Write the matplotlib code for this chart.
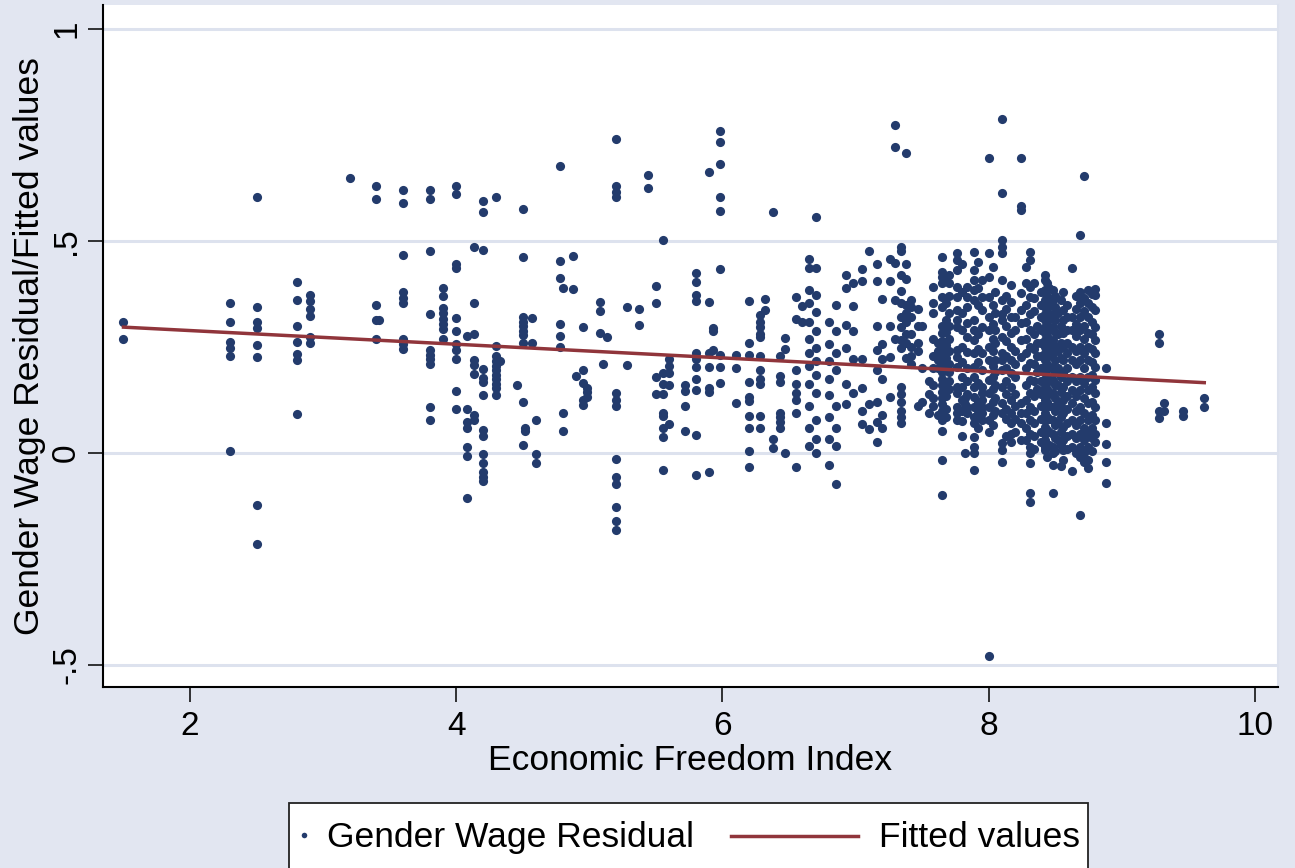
import matplotlib
matplotlib.use('Agg')
import matplotlib.pyplot as plt
from matplotlib.lines import Line2D
from matplotlib.patches import Rectangle

plt.rcParams['font.family'] = ['Liberation Sans', 'DejaVu Sans']

# Economic Freedom Index columns and the residuals
low_x = [1.5, 2.3, 2.5, 2.8, 2.9, 3.2, 3.4, 3.42, 3.6, 3.8, 3.9, 4.0, 4.08, 4.13, 4.2,
         4.3, 4.33, 4.46, 4.5, 4.52, 4.57, 4.6, 4.78, 4.8, 4.88, 4.9, 4.95, 4.98]
low_y = [
    [0.308, 0.27],
    [0.353, 0.308, 0.263, 0.247, 0.229, 0.004],
    [0.604, 0.344, 0.31, 0.295, 0.255, 0.226, -0.122, -0.215],
    [0.403, 0.361, 0.30, 0.263, 0.234, 0.219, 0.092],
    [0.374, 0.358, 0.339, 0.324, 0.274, 0.26],
    [0.65],
    [0.63, 0.60, 0.35, 0.315, 0.268],
    [0.315],
    [0.621, 0.59, 0.467, 0.381, 0.365, 0.353, 0.268, 0.258, 0.245],
    [0.62, 0.60, 0.476, 0.327, 0.242, 0.232, 0.221, 0.21, 0.109, 0.079],
    [0.39, 0.37, 0.342, 0.33, 0.316, 0.305, 0.293, 0.268],
    [0.63, 0.61, 0.447, 0.437, 0.319, 0.287, 0.258, 0.242, 0.222, 0.147, 0.103],
    [0.277, 0.103, 0.074, 0.06, 0.015, -0.008, -0.106],
    [0.486, 0.353, 0.281, 0.22, 0.207, 0.186, 0.089, 0.077],
    [0.594, 0.569, 0.478, 0.199, 0.176, 0.168, 0.137, 0.055, 0.039, -0.002, -0.023, -0.044, -0.056, -0.066],
    [0.604, 0.253, 0.228, 0.218, 0.205, 0.195, 0.184, 0.174, 0.163, 0.153, 0.136],
    [0.216],
    [0.161],
    [0.576, 0.463, 0.321, 0.31, 0.30, 0.289, 0.279, 0.26, 0.121, 0.02],
    [0.06, 0.053],
    [0.319, 0.26],
    [0.077, -0.003, -0.023],
    [0.677, 0.454, 0.412, 0.305, 0.277, 0.249],
    [0.389, 0.095, 0.053],
    [0.466, 0.387],
    [0.182],
    [0.298, 0.195, 0.165, 0.126, 0.113],
    [0.153, 0.144, 0.132],
]

mid_x = [5.08, 5.1, 5.13, 5.2, 5.28, 5.37, 5.44, 5.5, 5.55, 5.6, 5.72, 5.8, 5.9, 5.93, 5.98,
         6.1, 6.2, 6.28, 6.32, 6.38, 6.43, 6.47, 6.55, 6.6, 6.65, 6.7, 6.8, 6.85, 6.93, 6.98]
mid_y = [
    [0.356, 0.334, 0.284],
    [0.211],
    [0.274],
    [0.741, 0.629, 0.616, 0.603, 0.142, 0.126, 0.111, -0.014, -0.056, -0.074, -0.128, -0.16, -0.182],
    [0.344, 0.207],
    [0.34, 0.303],
    [0.657, 0.626],
    [0.394, 0.353, 0.179, 0.14],
    [0.503, 0.189, 0.163, 0.14, 0.095, 0.087, 0.06, 0.037, -0.04],
    [0.221, 0.205, 0.189, 0.161, 0.068],
    [0.161, 0.147, 0.111, 0.052],
    [0.425, 0.403, 0.372, 0.358, 0.237, 0.221, 0.203, 0.174, 0.149, 0.042, -0.052],
    [0.664, 0.357, 0.235, 0.202, 0.153, 0.144, -0.045],
    [0.242, 0.295, 0.289],
    [0.76, 0.734, 0.683, 0.605, 0.571, 0.434, 0.232, 0.203, 0.165],
    [0.232, 0.2, 0.119],
    [0.358, 0.26, 0.232, 0.168, 0.132, 0.123, 0.087, 0.058, 0.005, -0.034],
    [0.326, 0.31, 0.298, 0.281, 0.274, 0.228, 0.197, 0.174, 0.163, 0.087, 0.06],
    [0.363, 0.337],
    [0.569, 0.034, 0.011],
    [0.229, 0.181, 0.168, 0.095, 0.084, 0.074, 0.058],
    [0.272, 0.245, 0.0],
    [0.368, 0.316, 0.195, 0.163, 0.142, 0.126, 0.095, -0.032],
    [0.347, 0.31],
    [0.458, 0.437, 0.384, 0.353, 0.31, 0.268, 0.237, 0.205, 0.163, 0.111, 0.058, 0.016],
    [0.558, 0.437, 0.374, 0.332, 0.289, 0.247, 0.216, 0.184, 0.142, 0.079, 0.032, 0.0],
    [0.31, 0.258, 0.216, 0.174, 0.137, 0.084, 0.032, -0.028],
    [0.349, 0.289, 0.237, 0.195, 0.111, 0.058, 0.016, -0.074],
    [0.419, 0.389, 0.303, 0.247, 0.163, 0.116],
    [0.4, 0.347, 0.289, 0.221, 0.142],
]

high_x = [7.05, 7.1, 7.16, 7.2, 7.26, 7.3, 7.34, 7.38, 7.42, 7.47, 7.5, 7.55, 7.58, 7.62,
          7.65, 7.7, 7.76, 7.82, 7.84, 7.89, 7.95, 8.0, 8.05, 8.1, 8.17, 8.24, 8.31, 8.36,
          8.42, 8.45, 8.48, 8.52, 8.56, 8.63, 8.69, 8.72, 8.75, 8.8, 8.88,
          9.28, 9.32, 9.46, 9.62]
high_y = [
    [0.435, 0.405, 0.221, 0.153, 0.1, 0.068],
    [0.476, 0.116, 0.056],
    [0.447, 0.405, 0.3, 0.242, 0.195, 0.121, 0.074, 0.026],
    [0.363, 0.258, 0.221, 0.174, 0.089, 0.058],
    [0.458, 0.405, 0.3, 0.226, 0.132],
    [0.775, 0.721, 0.448, 0.361, 0.268],
    [0.487, 0.477, 0.42, 0.383, 0.353, 0.322, 0.298, 0.267, 0.247, 0.156, 0.14, 0.12, 0.1, 0.085, 0.07],
    [0.708, 0.445, 0.41, 0.35, 0.33, 0.31, 0.28, 0.26, 0.225],
    [0.361, 0.345, 0.321, 0.28, 0.25, 0.23, 0.21],
    [0.34, 0.30, 0.26, 0.24, 0.11],
    [0.3, 0.2, 0.121],
    [0.17, 0.14, 0.094],
    [0.392, 0.353, 0.33, 0.27, 0.23, 0.2, 0.16, 0.13, 0.11],
    [0.26, 0.24, 0.22, 0.2, 0.09],
    [0.463, 0.428, 0.416, 0.4, 0.369, 0.345, 0.3, 0.282, 0.265, 0.25, 0.235, 0.22, 0.205, 0.19,
     0.175, 0.16, 0.145, 0.13, 0.115, 0.1, 0.078, 0.052, -0.017, -0.099],
    [0.42, 0.4, 0.37, 0.33, 0.3, 0.27, 0.24, 0.21, 0.19, 0.17, 0.15],
    [0.471, 0.455, 0.432, 0.392, 0.369, 0.337, 0.314, 0.298, 0.243, 0.227, 0.204, 0.156, 0.141,
     0.109, 0.094, 0.078],
    [0.13, 0.115, 0.0],
    [0.392, 0.369, 0.345, 0.306, 0.274, 0.239, 0.2, 0.17, 0.14, 0.109, 0.094],
    [0.475, 0.432, 0.408, 0.384, 0.361, 0.314, 0.29, 0.267, 0.235, 0.204, 0.18, 0.156, 0.133,
     0.109, 0.086, 0.07, 0.038, 0.015, 0.0, -0.039],
    [0.408, 0.369, 0.337, 0.298, 0.235, 0.196, 0.156, 0.141, 0.125, 0.109, 0.094, 0.078],
    [0.697, 0.471, 0.416, 0.369, 0.322, 0.29, 0.251, 0.219, 0.172, 0.141, 0.109, 0.078, 0.05, -0.48],
    [0.38, 0.33, 0.29, 0.26, 0.22, 0.19, 0.16, 0.13, 0.1],
    [0.789, 0.613, 0.502, 0.487, 0.471, 0.408, 0.361, 0.329, 0.314, 0.274, 0.235, 0.219, 0.196,
     0.156, 0.117, 0.094, 0.023, 0.007, -0.02],
    [0.396, 0.357, 0.322, 0.282, 0.251, 0.219, 0.188, 0.156, 0.125, 0.094, 0.07, 0.046, 0.027],
    [0.695, 0.582, 0.574, 0.377, 0.337, 0.306, 0.267, 0.227, 0.117, 0.094, 0.07, 0.031],
    [0.475, 0.455, 0.392, 0.369, 0.329, 0.29, 0.251, 0.212, 0.172, 0.141, 0.109, 0.078, 0.046,
     0.015, 0.0, -0.024, -0.095, -0.115],
    [0.3, 0.26, 0.23, 0.19, 0.15],
    [0.42, 0.408, 0.384, 0.361, 0.345, 0.329, 0.314, 0.298, 0.282, 0.267, 0.251, 0.235, 0.219,
     0.204, 0.188, 0.172, 0.156, 0.141, 0.125, 0.109, 0.094, 0.078, 0.062, 0.046, 0.031, 0.015, 0.007],
    [0.39, 0.35, 0.32, 0.29, 0.26, 0.23, 0.2, 0.17, 0.14, 0.11, 0.08, 0.05, 0.02],
    [0.384, 0.361, 0.329, 0.298, 0.267, 0.235, 0.204, 0.172, 0.141, 0.109, 0.078, 0.046, 0.015,
     0.0, -0.028, -0.094],
    [0.33, 0.28, 0.24, 0.2, 0.16, 0.12, 0.07, 0.03],
    [0.38, 0.337, 0.314, 0.282, 0.251, 0.219, 0.188, 0.156, 0.125, 0.094, 0.062, 0.031, 0.007, -0.017],
    [0.436, 0.322, 0.29, 0.251, 0.219, 0.18, 0.149, 0.117, 0.078, 0.046, 0.015, -0.042],
    [0.514, 0.38, 0.353, 0.322, 0.29, 0.251, 0.219, 0.18, 0.149, 0.109, 0.078, 0.046, 0.015,
     -0.009, -0.146],
    [0.653],
    [0.384, 0.353, 0.322, 0.282, 0.251, 0.219, 0.18, 0.149, 0.117, 0.078, 0.046, 0.015, -0.017, -0.036],
    [0.388, 0.373, 0.337, 0.298, 0.267, 0.235, 0.204, 0.172, 0.141, 0.109, 0.078, 0.046, 0.027],
    [0.2, 0.07, 0.021, -0.02, -0.07],
    [0.281, 0.26, 0.098, 0.083],
    [0.119, 0.1],
    [0.1, 0.087],
    [0.129, 0.109],
]

# extra points in the crowded block between 7.6 and 8.8
dense_x = [7.68, 7.8, 7.92, 8.03, 8.13, 8.2, 8.28, 8.34, 8.39, 8.44, 8.5, 8.54, 8.59,
           8.66, 8.72, 8.78]
dense_y = [
    [0.41, 0.355, 0.315, 0.285, 0.255, 0.225, 0.195, 0.165, 0.135, 0.105, 0.085],
    [0.445, 0.38, 0.33, 0.29, 0.25, 0.215, 0.18, 0.155, 0.125, 0.1, 0.075, 0.04],
    [0.45, 0.39, 0.35, 0.28, 0.245, 0.215, 0.165, 0.12, 0.1, 0.085, 0.06],
    [0.44, 0.35, 0.305, 0.27, 0.24, 0.205, 0.18, 0.15, 0.12, 0.09, 0.065],
    [0.37, 0.34, 0.3, 0.265, 0.23, 0.2, 0.17, 0.14, 0.105, 0.08, 0.04],
    [0.32, 0.29, 0.24, 0.21, 0.18, 0.14, 0.11, 0.08, 0.05],
    [0.44, 0.4, 0.35, 0.31, 0.27, 0.235, 0.2, 0.16, 0.125, 0.095, 0.06, 0.03],
    [0.4, 0.365, 0.335, 0.28, 0.245, 0.21, 0.17, 0.135, 0.1, 0.07, 0.04, 0.01],
    [0.38, 0.35, 0.32, 0.29, 0.26, 0.23, 0.2, 0.17, 0.14, 0.11, 0.08, 0.05, 0.025],
    [0.4, 0.37, 0.34, 0.31, 0.275, 0.245, 0.21, 0.18, 0.15, 0.12, 0.085, 0.055, 0.02, -0.01],
    [0.37, 0.345, 0.315, 0.285, 0.25, 0.22, 0.19, 0.16, 0.13, 0.1, 0.065, 0.035, 0.005],
    [0.36, 0.3, 0.26, 0.225, 0.18, 0.145, 0.11, 0.085, 0.05, 0.02, -0.03],
    [0.35, 0.32, 0.29, 0.26, 0.235, 0.2, 0.17, 0.135, 0.105, 0.07, 0.04, 0.01],
    [0.37, 0.34, 0.305, 0.275, 0.24, 0.21, 0.17, 0.135, 0.1, 0.065, 0.035, 0.0],
    [0.365, 0.335, 0.3, 0.27, 0.235, 0.2, 0.165, 0.13, 0.095, 0.06, 0.03, 0.0, -0.02],
    [0.375, 0.345, 0.31, 0.28, 0.245, 0.215, 0.185, 0.155, 0.12, 0.09, 0.06, 0.035, 0.005],
]

# fitted line end points
fit_x = [1.5, 9.62]
fit_y = [0.297, 0.166]

x_ticks = [2, 4, 6, 8, 10]
y_ticks = [-0.5, 0, 0.5, 1]
y_tick_labels = ['-.5', '0', '.5', '1']

W, H = 1295, 868
bg = '#e2e6f1'
navy = '#233b6c'
maroon = '#90353b'

fig = plt.figure(figsize=(W / 100, H / 100), dpi=100, facecolor=bg)
ax = fig.add_axes([103 / W, 1 - 687 / H, (1278 - 103) / W, (687 - 5) / H])
ax.set_facecolor('white')

# flatten columns into point lists
xs, ys = [], []
for cx, cy in zip(low_x + mid_x + high_x + dense_x, low_y + mid_y + high_y + dense_y):
    for v in cy:
        xs.append(cx)
        ys.append(v)

ax.plot(xs, ys, 'o', color=navy, markersize=6.6, markeredgewidth=0, zorder=3)
ax.plot(fit_x, fit_y, color=maroon, linewidth=2.5, zorder=4)

ax.set_xlim(1.346, 10.174)
ax.set_ylim(-0.552, 1.057)
ax.set_xticks(x_ticks)
ax.set_yticks(y_ticks)
ax.set_yticklabels(y_tick_labels, rotation=90, va='center')
ax.tick_params(axis='both', direction='out', length=11, width=1.1, labelsize=24, colors='black')
ax.tick_params(axis='x', pad=6)
ax.tick_params(axis='y', pad=4)
ax.yaxis.grid(True, color='#dde2ee', linewidth=2.2, zorder=0)
ax.set_axisbelow(True)

for side in ['left', 'bottom']:
    ax.spines[side].set_linewidth(1.5)
    ax.spines[side].set_color('black')
ax.spines['top'].set_visible(False)
ax.spines['right'].set_color('#dde2ee')
ax.spines['right'].set_linewidth(1.5)

ax.set_xlabel('Economic Freedom Index', fontsize=25.5, labelpad=2)
ax.set_ylabel('Gender Wage Residual/Fitted values', fontsize=25.5, labelpad=4)

# legend box (extends past the bottom edge)
fig.patches.append(Rectangle((289 / W, 1 - 1000 / H), (1088 - 289) / W, (1000 - 803) / H,
                             transform=fig.transFigure, facecolor='white', edgecolor='#222222',
                             linewidth=1.3))
fig.add_artist(Line2D([303.5 / W], [1 - 835 / H], marker='o', color=navy, markersize=4,
                      markeredgewidth=0, transform=fig.transFigure))
fig.text(327 / W, 1 - 847 / H, 'Gender Wage Residual', fontsize=25.5, va='baseline', ha='left')
fig.add_artist(Line2D([731 / W, 858 / W], [1 - 836 / H, 1 - 836 / H], color=maroon,
                      linewidth=2.5, transform=fig.transFigure))
fig.text(879 / W, 1 - 847 / H, 'Fitted values', fontsize=25.5, va='baseline', ha='left')

fig.savefig('out.png', dpi=100, facecolor=bg)
